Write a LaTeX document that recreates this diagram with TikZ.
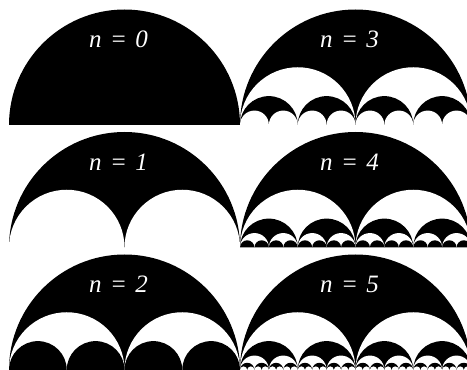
\documentclass[tikz,border=0pt]{standalone}
\usepackage{fontspec}
\setmainfont{Liberation Serif}
\tikzset{
  lbl/.style={text=white,font=\itshape\fontsize{25}{25}\selectfont,anchor=base,inner sep=0pt},
}
\newcommand\halfdisk[4]{% center x, baseline y, radius, depth n
  \foreach \k in {0,...,#4}{
    \pgfmathtruncatemacro\mycount{2^\k}
    \pgfmathsetmacro\myr{#3/\mycount}
    \pgfmathtruncatemacro\myodd{mod(\k,2)}
    \ifnum\myodd=1 \def\mycol{white}\def\mydrop{1.2}\else\def\mycol{black}\def\mydrop{0}\fi
    \foreach \i in {1,...,\mycount}{
      \pgfmathsetmacro\mycx{#1-#3+(2*\i-1)*\myr}
      \fill[\mycol] (\mycx-\myr,#2-\mydrop) -- (\mycx-\myr,#2) arc[start angle=180,end angle=0,radius=\myr] -- (\mycx+\myr,#2-\mydrop) -- cycle;
    }
  }
}
\newcommand\nlabel[4]{% name, x, y, digit
  \node[lbl] (#1) at (#2,#3) {n\hspace{0.34em}=\hspace{0.34em}#4};
}
\begin{document}
\begin{tikzpicture}[x=1pt,y=1pt]
  \useasboundingbox (0,0) rectangle (467,370);
  \fill[white] (0,0) rectangle (467,370);
  \clip (0,0) rectangle (467,370);
  % left column
  \halfdisk{124.5}{245}{115.5}{0}
  \halfdisk{124.5}{122.5}{115.5}{1}
  \halfdisk{124.5}{0}{115.5}{2}
  % right column
  \halfdisk{355.5}{245}{115.5}{3}
  \halfdisk{355.5}{122.5}{115.5}{4}
  \halfdisk{355.5}{0}{115.5}{5}
  % labels
  \nlabel{l0}{118.5}{322}{0}
  \nlabel{l1}{118.5}{199.5}{1}
  \nlabel{l2}{118.5}{77}{2}
  \nlabel{l3}{349.5}{322}{3}
  \nlabel{l4}{349.5}{199.5}{4}
  \nlabel{l5}{349.5}{77}{5}
\end{tikzpicture}
\end{document}
